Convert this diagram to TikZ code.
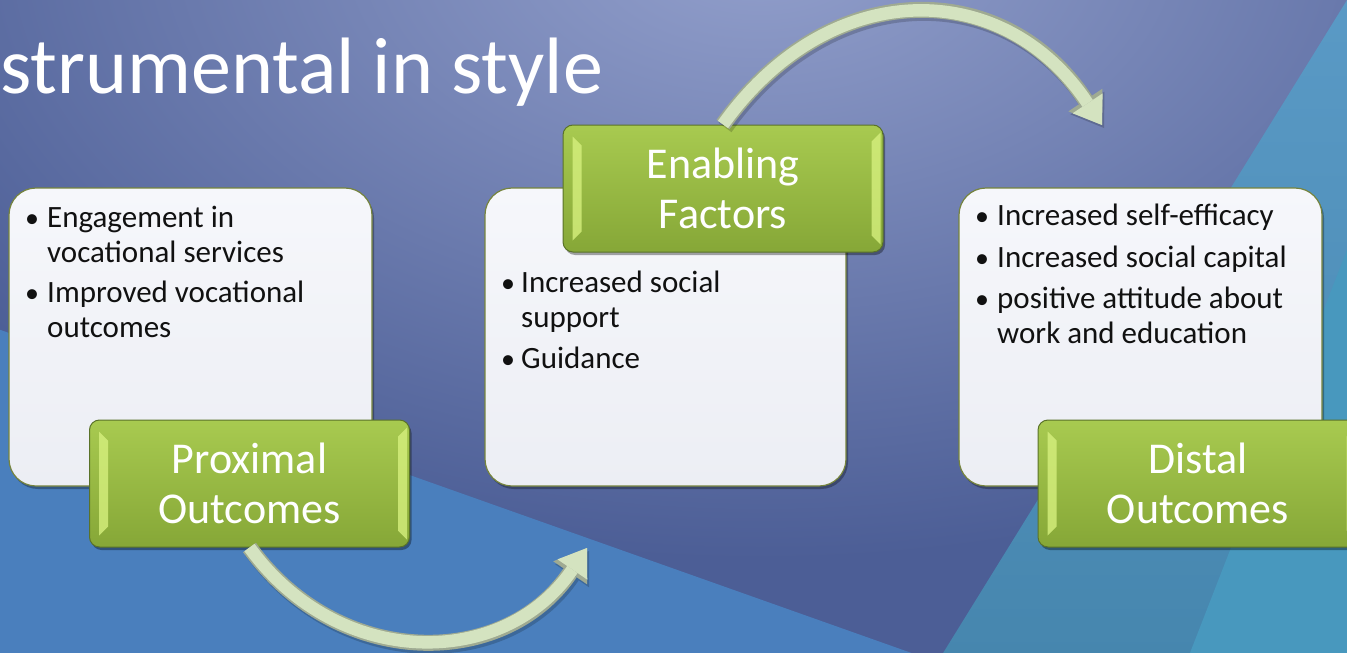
\documentclass[tikz,border=0pt]{standalone}
\usepackage{fontspec}
\setmainfont{Carlito}
\usetikzlibrary{calc,shadows,arrows.meta}
\definecolor{bginner}{HTML}{93A0CC}
\definecolor{bgouter}{HTML}{4C5E96}
\definecolor{lightblue}{HTML}{4A7FBD}
\definecolor{tealtop}{HTML}{5A9AC6}
\definecolor{tealbot}{HTML}{4686AE}
\definecolor{teallight}{HTML}{4898BE}
\definecolor{boxtop}{HTML}{F6F7FB}
\definecolor{boxbot}{HTML}{ECEEF4}
\definecolor{boxedge}{HTML}{76843E}
\definecolor{tabtop}{HTML}{A8CA50}
\definecolor{tabbot}{HTML}{86A737}
\definecolor{tabedge}{HTML}{5A7229}
\definecolor{bevelc}{HTML}{D6F07E}
\definecolor{arrowfill}{HTML}{D4E3C0}
\definecolor{arrowedge}{HTML}{9FAA92}
\definecolor{textdark}{HTML}{111111}
\newcommand{\tabbevel}[1]{%
  \fill[bevel] ($(#1.north west)+(10,12)$) -- ($(#1.north west)+(19,21)$) -- ($(#1.south west)+(19,-21)$) -- ($(#1.south west)+(10,-12)$) -- cycle;
  \fill[bevel] ($(#1.north east)+(-3,8)$) -- ($(#1.north east)+(-12,17)$) -- ($(#1.south east)+(-12,-17)$) -- ($(#1.south east)+(-3,-8)$) -- cycle;}
\begin{document}
\begin{tikzpicture}[x=1pt,y=-1pt,
  whitebox/.style={draw=boxedge, line width=1.2pt, rounded corners=27pt, top color=boxtop, bottom color=boxbot,
     minimum height=298pt, inner sep=0pt,
     drop shadow={shadow xshift=2pt, shadow yshift=-3pt, opacity=0.3, fill=black}},
  greentab/.style={draw=tabedge, line width=1pt, rounded corners=10pt, top color=tabtop, bottom color=tabbot,
     minimum width=320pt, minimum height=127pt, inner sep=0pt, align=center, text=white,
     font=\fontsize{44}{50}\selectfont,
     drop shadow={shadow xshift=2pt, shadow yshift=-3pt, opacity=0.35, fill=black}},
  bevel/.style={fill=bevelc, opacity=0.8},
  txt/.style={anchor=base west, inner sep=0pt, text=textdark, font=\fontsize{31}{35}\selectfont},
  bul/.style={anchor=base, inner sep=0pt, text=textdark, font=\fontsize{28}{35}\selectfont},
  arrowshadow/.style={line width=16pt, color=black, opacity=0.18, transform canvas={shift={(2pt,-3pt)}},
     -{Triangle[width=41pt,length=30pt,line width=0pt]}},
  arrowout/.style={line width=16pt, color=arrowedge, -{Triangle[width=41pt,length=30pt,line width=0pt]}},
  arrowin/.style={line width=12.5pt, color=arrowfill, -{Triangle[width=36pt,length=26pt,line width=0pt]}}]
\useasboundingbox (0,0) rectangle (1347,653);
\begin{scope}
\clip (0,0) rectangle (1347,653);
% background
\fill[bgouter] (-5,-5) rectangle (1352,658);
\shade[inner color=bginner, outer color=bgouter] (760,-60) ellipse (1000pt and 620pt);
\fill[lightblue] (-5,328) -- (920,656) -- (-5,656) -- cycle;
\shade[top color=tealtop, bottom color=tealbot] (1352,-8) -- (940,658) -- (1352,658) -- cycle;
\fill[teallight] (1352,237) -- (1188,658) -- (1352,658) -- cycle;
% title
\node[anchor=base west, inner sep=0pt, text=white, font=\fontsize{80}{92}\selectfont] (title) at (0,93) {strumental in style};
% white boxes
\node[whitebox, minimum width=363pt] (box1) at (190.5,337) {};
\node[whitebox, minimum width=361pt] (box2) at (665.5,337) {};
\node[whitebox, minimum width=363pt] (box3) at (1140.5,337) {};
% box texts
\node[bul] (d11) at (32,227) {\textbullet};
\node[txt] (t11) at (47,227) {Engagement in};
\node[txt] (t12) at (47,262) {vocational services};
\node[bul] (d12) at (32,302) {\textbullet};
\node[txt] (t13) at (47,302) {Improved vocational};
\node[txt] (t14) at (47,337) {outcomes};
\node[bul] (d21) at (508,292) {\textbullet};
\node[txt] (t21) at (521,292) {Increased social};
\node[txt] (t22) at (521,327) {support};
\node[bul] (d22) at (508,368) {\textbullet};
\node[txt] (t23) at (521,368) {Guidance};
\node[bul] (d31) at (982,225) {\textbullet};
\node[txt] (t31) at (997,225) {Increased self-efficacy};
\node[bul] (d32) at (982,267) {\textbullet};
\node[txt] (t32) at (997,267) {Increased social capital};
\node[bul] (d33) at (982,308) {\textbullet};
\node[txt] (t33) at (997,308) {positive attitude about};
\node[txt] (t34) at (997,343) {work and education};
% green tabs
\node[greentab] (tab1) at (249.5,483.5) {Proximal\\Outcomes};
\node[greentab] (tab2) at (723,188.5) {Enabling\\Factors};
\node[greentab] (tab3) at (1198,483.5) {Distal\\Outcomes};
\tabbevel{tab1}
\tabbevel{tab2}
\tabbevel{tab3}
% arrows
\coordinate (a1end) at (587,548);
\coordinate (a2end) at (1102,125);
\draw[arrowshadow] (tab1.south) .. controls (338,670) and (504,670) .. (a1end);
\draw[arrowout] (tab1.south) .. controls (338,670) and (504,670) .. (a1end);
\draw[arrowin] (tab1.south) .. controls (338,670) and (504,670) .. (a1end);
\draw[arrowshadow] (tab2.north) .. controls (829,-24) and (1003,-24) .. (a2end);
\draw[arrowout] (tab2.north) .. controls (829,-24) and (1003,-24) .. (a2end);
\draw[arrowin] (tab2.north) .. controls (829,-24) and (1003,-24) .. (a2end);
\end{scope}
\end{tikzpicture}
\end{document}
